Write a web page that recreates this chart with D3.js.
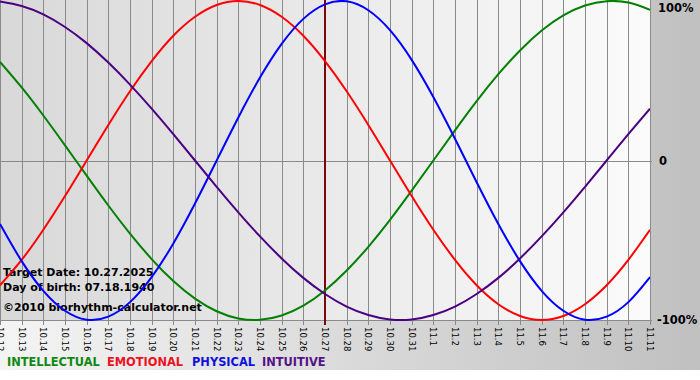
<!DOCTYPE html>
<html>
<head>
<meta charset="utf-8">
<script src="https://cdn.jsdelivr.net/npm/d3@7"></script>
<style>
  html, body { margin: 0; padding: 0; background: #fff; }
  svg { display: block; }
</style>
</head>
<body>
<svg id="chart" width="700" height="380"></svg>
<script>
// ---- data ----
const dates = ["10.12","10.13","10.14","10.15","10.16","10.17","10.18","10.19","10.20","10.21",
  "10.22","10.23","10.24","10.25","10.26","10.27","10.28","10.29","10.30","10.31",
  "11.1","11.2","11.3","11.4","11.5","11.6","11.7","11.8","11.9","11.10","11.11"];
const targetDate = "10.27";
const intellectual = [0.618,0.458,0.282,0.095,-0.095,-0.282,-0.458,-0.618,-0.756,-0.866,-0.945,-0.990,-0.999,-0.972,-0.910,-0.815,
  -0.690,-0.541,-0.372,-0.189,0.000,0.189,0.372,0.541,0.690,0.815,0.910,0.972,0.999,0.990,0.945];
const emotional = [-0.782,-0.623,-0.434,-0.223,0.000,0.223,0.434,0.623,0.782,0.901,0.975,1.000,0.975,0.901,0.782,0.623,
  0.434,0.223,0.000,-0.223,-0.434,-0.623,-0.782,-0.901,-0.975,-1.000,-0.975,-0.901,-0.782,-0.623,-0.434];
const physical = [-0.398,-0.631,-0.817,-0.942,-0.998,-0.979,-0.888,-0.731,-0.520,-0.270,0.000,0.270,0.520,0.731,0.888,0.979,
  0.998,0.942,0.817,0.631,0.398,0.136,-0.136,-0.398,-0.631,-0.817,-0.942,-0.998,-0.979,-0.888,-0.731];
const intuitive = [0.997,0.969,0.916,0.837,0.736,0.614,0.476,0.325,0.165,0.000,-0.165,-0.325,-0.476,-0.614,-0.736,-0.837,
  -0.916,-0.969,-0.997,-0.997,-0.969,-0.916,-0.837,-0.736,-0.614,-0.476,-0.325,-0.165,0.000,0.165,0.325];
const seriesNames = ["INTELLECTUAL","EMOTIONAL","PHYSICAL","INTUITIVE"];
const yTickValues = [1, 0, -1];
const yTickLabels = ["100%", "0", "-100%"];
const infoLines = ["Target Date: 10.27.2025", "Day of birth: 07.18.1940", "\u00A92010 biorhythm-calculator.net"];

// ---- styles ----
const lineColors = ["#008000", "#ff0000", "#0000ff", "#4b0082"];
const legendColors = ["#118811", "#ee1122", "#1111dd", "#551188"];
const legendX = [7, 107, 192, 262];

const svg = d3.select("#chart");
const W = 700, plotW = 650;
const x = d3.scalePoint().domain(dates).range([0, plotW]);
const y = d3.scaleLinear().domain([-1, 1]).range([320, 1]);

const defs = svg.append("defs");
const fg = defs.append("linearGradient").attr("id", "frameGrad").attr("x1", 0).attr("x2", 1).attr("y1", 0).attr("y2", 0);
fg.append("stop").attr("offset", 0).attr("stop-color", "#f4f4f4");
fg.append("stop").attr("offset", 1).attr("stop-color", "#c0c0c0");
const pg = defs.append("linearGradient").attr("id", "plotGrad").attr("x1", 0).attr("x2", 1).attr("y1", 0).attr("y2", 0);
pg.append("stop").attr("offset", 0).attr("stop-color", "#d8d8d8");
pg.append("stop").attr("offset", 1).attr("stop-color", "#fbfbfb");
defs.append("clipPath").attr("id", "plotClip").append("rect")
  .attr("x", 0).attr("y", 0).attr("width", plotW).attr("height", y(-1) + 2);

svg.append("rect").attr("x", 0).attr("y", 0).attr("width", W).attr("height", 370).attr("fill", "url(#frameGrad)");
svg.append("rect").attr("x", 0).attr("y", 0).attr("width", plotW).attr("height", y(-1)).attr("fill", "url(#plotGrad)");

const crisp = v => Math.round(v) + 0.5;

// vertical grid + ticks
svg.append("g").selectAll("line").data(dates).join("line")
  .attr("x1", d => crisp(x(d))).attr("x2", d => crisp(x(d)))
  .attr("y1", 0).attr("y2", y(-1) + 5)
  .attr("stroke", "#8a8a8a").attr("stroke-width", 1);

// horizontal lines (0 and -100%)
svg.append("g").selectAll("line").data([0, -1]).join("line")
  .attr("x1", 0).attr("x2", plotW + 2)
  .attr("y1", d => crisp(y(d))).attr("y2", d => crisp(y(d)))
  .attr("stroke", "#8a8a8a").attr("stroke-width", 1);

// info text
svg.append("g").selectAll("text").data(infoLines).join("text")
  .attr("x", 3).attr("y", (d, i) => [276, 291, 311][i])
  .attr("font-family", "DejaVu Sans, Verdana, sans-serif").attr("font-weight", "bold")
  .attr("font-size", 11).attr("fill", "#000").text(d => d);

// target line
svg.append("line")
  .attr("x1", x(targetDate)).attr("x2", x(targetDate))
  .attr("y1", 0).attr("y2", y(-1) + 5)
  .attr("stroke", "#7a0a0a").attr("stroke-width", 2);

// curves
const seriesData = [intellectual, emotional, physical, intuitive];
const line = d3.line().x((d, i) => x(dates[i])).y(d => y(d)).curve(d3.curveNatural);
svg.append("g").attr("clip-path", "url(#plotClip)").selectAll("path").data(seriesData).join("path")
  .attr("d", d => line(d)).attr("fill", "none")
  .attr("stroke", (d, i) => lineColors[i]).attr("stroke-width", 2);

// x tick labels (rotated)
svg.append("g").selectAll("text").data(dates).join("text")
  .attr("transform", d => `translate(${x(d)},327) rotate(90)`)
  .attr("dominant-baseline", "central")
  .attr("font-family", "DejaVu Sans, Verdana, sans-serif").attr("font-size", 8.5)
  .attr("fill", "#000").text(d => d);

// y labels on right
svg.append("g").selectAll("text").data(yTickValues).join("text")
  .attr("x", (d, i) => [658, 659, 657][i])
  .attr("y", d => Math.min(Math.max(y(d), 8), 322) + 4)
  .attr("font-family", "DejaVu Sans, Verdana, sans-serif").attr("font-weight", "bold")
  .attr("font-size", 11.5).attr("fill", "#000").text((d, i) => yTickLabels[i]);

// legend
svg.append("g").selectAll("text").data(seriesNames).join("text")
  .attr("x", (d, i) => legendX[i]).attr("y", 366)
  .attr("font-family", "DejaVu Sans, Verdana, sans-serif").attr("font-weight", "bold")
  .attr("font-size", 11.4).attr("fill", (d, i) => legendColors[i]).text(d => d);
</script>
</body>
</html>
